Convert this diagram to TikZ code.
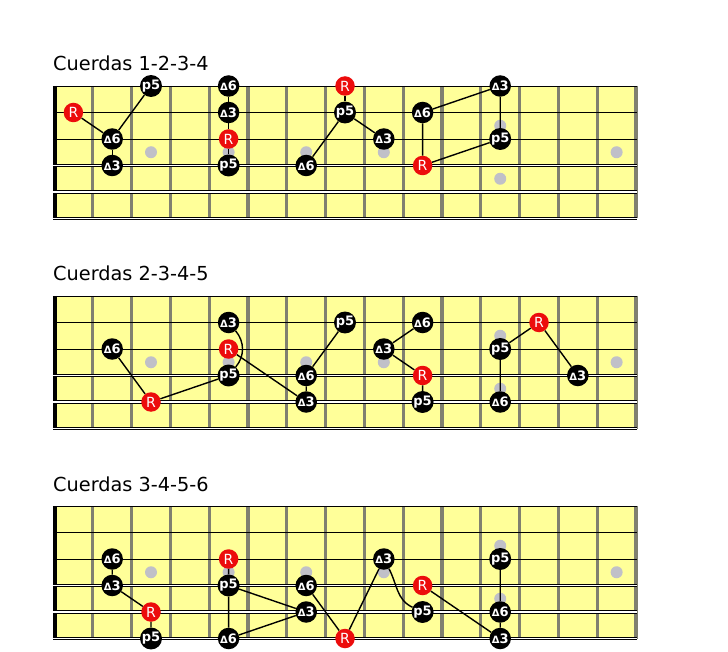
\documentclass[tikz,border=0pt]{standalone}
\usepackage{fontspec}
\setmainfont{DejaVu Sans}

\definecolor{mastil}{RGB}{255,255,153}
\definecolor{traste}{RGB}{128,128,112}
\definecolor{punto}{RGB}{192,192,200}
\definecolor{rojo}{RGB}{236,12,12}

\tikzset{
  nota/.style={circle, fill=black, text=white, minimum size=21.5pt, inner sep=0pt,
    font=\bfseries\fontsize{13}{13}\selectfont},
  raiz/.style={nota, fill=rojo, minimum size=19.5pt, font=\fontsize{14}{14}\selectfont},
  enlace/.style={line width=1.4pt},
  titulo/.style={anchor=base west, inner sep=0pt, font=\fontsize{19.3}{22}\selectfont},
}

\newcommand{\tri}{{\fontsize{10}{10}\selectfont Δ}}

\newcommand{\diapason}{%
  \fill[mastil] (0.5,0) rectangle (15.5,5);
  \foreach \t in {1,...,15} \draw[traste, line width=3.2pt] (\t+0.5,0) -- (\t+0.5,5);
  \foreach \t in {3,5,7,9,15} \fill[punto] (\t,2.5) circle (6pt);
  \fill[punto] (12,1.5) circle (6pt) (12,3.5) circle (6pt);
  \draw[line width=4pt] (0.53,0) -- (0.53,5);
  \foreach \cuerda in {0,1,2} \draw[line width=0.8pt] (0.47,\cuerda) -- (15.53,\cuerda);
  \draw[double=white, double distance=1pt, line width=0.7pt] (0.47,3) -- (15.53,3);
  \foreach \cuerda in {4,5} \draw[double=white, double distance=1.6pt, line width=0.8pt] (0.47,\cuerda) -- (15.53,\cuerda);
}

\begin{document}
\begin{tikzpicture}
  \useasboundingbox (0,0) rectangle (728pt,-652pt);

  \node[titulo] (t1) at (53pt,-71pt) {Cuerdas 1-2-3-4};
  \node[titulo] (t2) at (53pt,-281pt) {Cuerdas 2-3-4-5};
  \node[titulo] (t3) at (53pt,-491pt) {Cuerdas 3-4-5-6};

  % cuerdas 1-2-3-4
  \begin{scope}[xshift=34.6pt, yshift=-86pt, x=38.8pt, y=-26.5pt]
    \diapason
    \node[raiz] (aR1) at (1,1) {R};
    \node[nota] (a6a) at (2,2) {\tri6};
    \node[nota] (a3a) at (2,3) {\tri3};
    \node[nota] (a5a) at (3,0) {p5};
    \node[nota] (a6b) at (5,0) {\tri6};
    \node[nota] (a3b) at (5,1) {\tri3};
    \node[raiz] (aR2) at (5,2) {R};
    \node[nota] (a5b) at (5,3) {p5};
    \node[nota] (a6c) at (7,3) {\tri6};
    \node[raiz] (aR3) at (8,0) {R};
    \node[nota] (a5c) at (8,1) {p5};
    \node[nota] (a3c) at (9,2) {\tri3};
    \node[nota] (a6d) at (10,1) {\tri6};
    \node[raiz] (aR4) at (10,3) {R};
    \node[nota] (a3d) at (12,0) {\tri3};
    \node[nota] (a5d) at (12,2) {p5};
    \draw[enlace] (aR1) -- (a6a) -- (a5a);
    \draw[enlace] (a6a) -- (a3a);
    \draw[enlace] (a6b) -- (a3b) -- (aR2) -- (a5b);
    \draw[enlace] (a6c) -- (a5c) -- (a3c);
    \draw[enlace] (aR3) -- (a5c);
    \draw[enlace] (a3d) -- (a6d) -- (aR4) -- (a5d) -- (a3d);
  \end{scope}

  % cuerdas 2-3-4-5
  \begin{scope}[xshift=34.6pt, yshift=-296pt, x=38.8pt, y=-26.5pt]
    \diapason
    \node[nota] (b6a) at (2,2) {\tri6};
    \node[raiz] (bR1) at (3,4) {R};
    \node[nota] (b3a) at (5,1) {\tri3};
    \node[raiz] (bR2) at (5,2) {R};
    \node[nota] (b5a) at (5,3) {p5};
    \node[nota] (b6b) at (7,3) {\tri6};
    \node[nota] (b3b) at (7,4) {\tri3};
    \node[nota] (b5b) at (8,1) {p5};
    \node[nota] (b3c) at (9,2) {\tri3};
    \node[nota] (b6c) at (10,1) {\tri6};
    \node[raiz] (bR3) at (10,3) {R};
    \node[nota] (b5c) at (10,4) {p5};
    \node[nota] (b5d) at (12,2) {p5};
    \node[nota] (b6d) at (12,4) {\tri6};
    \node[raiz] (bR4) at (13,1) {R};
    \node[nota] (b3d) at (14,3) {\tri3};
    \draw[enlace] (b6a) -- (bR1) -- (b5a);
    \draw[enlace] (b3a) to[out=-50, in=50] (b5a);
    \draw[enlace] (bR2) -- (b3b) -- (b6b) -- (b5b);
    \draw[enlace] (b6c) -- (b3c) -- (bR3) -- (b5c);
    \draw[enlace] (b6d) -- (b5d) -- (bR4) -- (b3d);
  \end{scope}

  % cuerdas 3-4-5-6
  \begin{scope}[xshift=34.6pt, yshift=-506pt, x=38.8pt, y=-26.5pt]
    \diapason
    \node[nota] (c6a) at (2,2) {\tri6};
    \node[nota] (c3a) at (2,3) {\tri3};
    \node[raiz] (cR1) at (3,4) {R};
    \node[nota] (c5a) at (3,5) {p5};
    \node[raiz] (cR2) at (5,2) {R};
    \node[nota] (c5b) at (5,3) {p5};
    \node[nota] (c6b) at (5,5) {\tri6};
    \node[nota] (c6c) at (7,3) {\tri6};
    \node[nota] (c3b) at (7,4) {\tri3};
    \node[raiz] (cR3) at (8,5) {R};
    \node[nota] (c3c) at (9,2) {\tri3};
    \node[raiz] (cR4) at (10,3) {R};
    \node[nota] (c5c) at (10,4) {p5};
    \node[nota] (c5d) at (12,2) {p5};
    \node[nota] (c6d) at (12,4) {\tri6};
    \node[nota] (c3d) at (12,5) {\tri3};
    \draw[enlace] (c6a) -- (c3a) -- (cR1) -- (c5a);
    \draw[enlace] (cR2) -- (c5b) -- (c6b) -- (c3b) -- (c5b);
    \draw[enlace] (c6c) -- (cR3) -- (c3c);
    \draw[enlace] (c3c) to[out=-62, in=155] (c5c);
    \draw[enlace] (cR4) -- (c3d) -- (c6d) -- (c5d);
  \end{scope}
\end{tikzpicture}
\end{document}
